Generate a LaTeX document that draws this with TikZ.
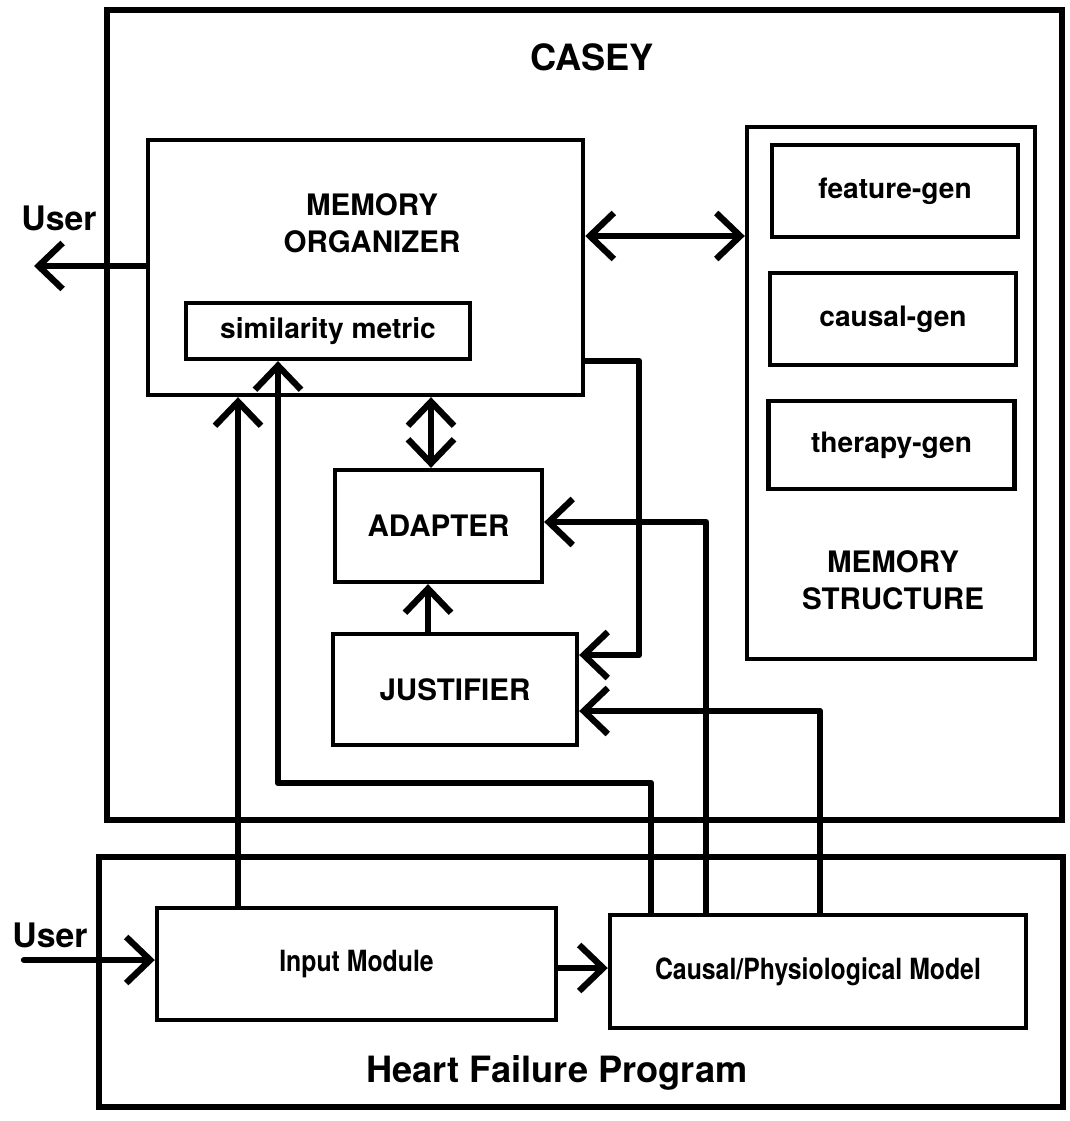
\documentclass[tikz,border=0pt]{standalone}
\usepackage{fontspec}
\setmainfont{TeX Gyre Heros}
\newfontfamily\narrowfont{TeX Gyre Heros}[FakeStretch=0.85]
\usetikzlibrary{arrows.meta}

\begin{document}
\begin{tikzpicture}[x=0.01cm, y=-0.01cm,
  >={Straight Barb[length=2.4mm, width=4.6mm]},
  frame/.style={draw, line width=1.8pt, inner sep=0pt},
  box/.style={draw, line width=1.2pt, inner sep=0pt},
  conn/.style={line width=1.8pt, line cap=round, line join=round},
  caps/.style={font=\fontsize{8.4}{10.5}\selectfont\bfseries, align=center},
  gen/.style={font=\fontsize{8}{10}\selectfont\bfseries},
  plain/.style={font=\narrowfont\fontsize{8.3}{10}\selectfont\bfseries},
  title/.style={font=\fontsize{10.3}{12}\selectfont\bfseries}]
\useasboundingbox (0,0) rectangle (1069,1121);

% the two systems
\node[frame, minimum width=9.55cm, minimum height=8.10cm] (casey) at (584.5,415) {};
\node[title] (caseyname) at (592,57) {CASEY};
\node[frame, minimum width=9.64cm, minimum height=2.50cm] (hfp) at (581,982) {};
\node[title] (hfpname) at (557,1073) {Heart Failure Program};

% CASEY parts
\node[box, minimum width=4.35cm, minimum height=2.55cm] (mo) at (365.5,267.5) {};
\node[caps] (moname) at (372,223) {MEMORY\\ORGANIZER};
\node[box, gen, minimum width=2.84cm, minimum height=0.56cm] (sim) at (328,331) {similarity metric};

\node[box, minimum width=2.88cm, minimum height=5.32cm] (ms) at (891,393) {};
\node[caps] (msname) at (893,580) {MEMORY\\STRUCTURE};
\node[box, gen, minimum width=2.46cm, minimum height=0.92cm] (fgen) at (895,191) {feature-gen};
\node[box, gen, minimum width=2.46cm, minimum height=0.92cm] (cgen) at (893,319) {causal-gen};
\node[box, gen, minimum width=2.46cm, minimum height=0.88cm] (tgen) at (891.5,445) {therapy-gen};

\node[box, caps, minimum width=2.07cm, minimum height=1.12cm] (adapter) at (438.5,526) {ADAPTER};
\node[box, caps, minimum width=2.44cm, minimum height=1.11cm] (justifier) at (455,689.5) {JUSTIFIER};

% Heart Failure Program parts
\node[box, plain, minimum width=3.99cm, minimum height=1.12cm] (input) at (356.5,964) {Input Module};
\node[box, plain, minimum width=4.16cm, minimum height=1.13cm] (model) at (818,971.5) {Causal/Physiological Model};

\node[title, font=\fontsize{9.6}{11}\selectfont\bfseries] (userout) at (59,218) {User};
\node[title, font=\fontsize{9.6}{11}\selectfont\bfseries] (userin) at (50,935) {User};
\coordinate (outend) at (34,266);
\coordinate (inend) at (24,960);

% connectors
\draw[conn, ->] (mo.west |- 0,266) -- (outend);
\draw[conn, <->] (mo.east |- 0,236) -- (ms.west |- 0,236);
\draw[conn, <->] (mo.south -| 431,0) -- (adapter.north -| 431,0);
\draw[conn, ->] (justifier.north -| 428,0) -- (adapter.south -| 428,0);
\draw[conn, ->] (mo.east |- 0,361) -- ++(54,0) |- (justifier.east |- 0,655);
\draw[conn, ->] (model.north -| 706,0) |- (adapter.east |- 0,522);
\draw[conn, ->] (model.north -| 820,0) |- (justifier.east |- 0,711);
\draw[conn, ->] (model.north -| 651,0) |- (278,783) -- (sim.south -| 278,0);
\draw[conn, ->] (input.north -| 238,0) -- (mo.south -| 238,0);
\draw[conn, ->] (inend) -- (input.west |- 0,960);
\draw[conn, ->] (input.east |- 0,968) -- (model.west |- 0,968);

\end{tikzpicture}
\end{document}
